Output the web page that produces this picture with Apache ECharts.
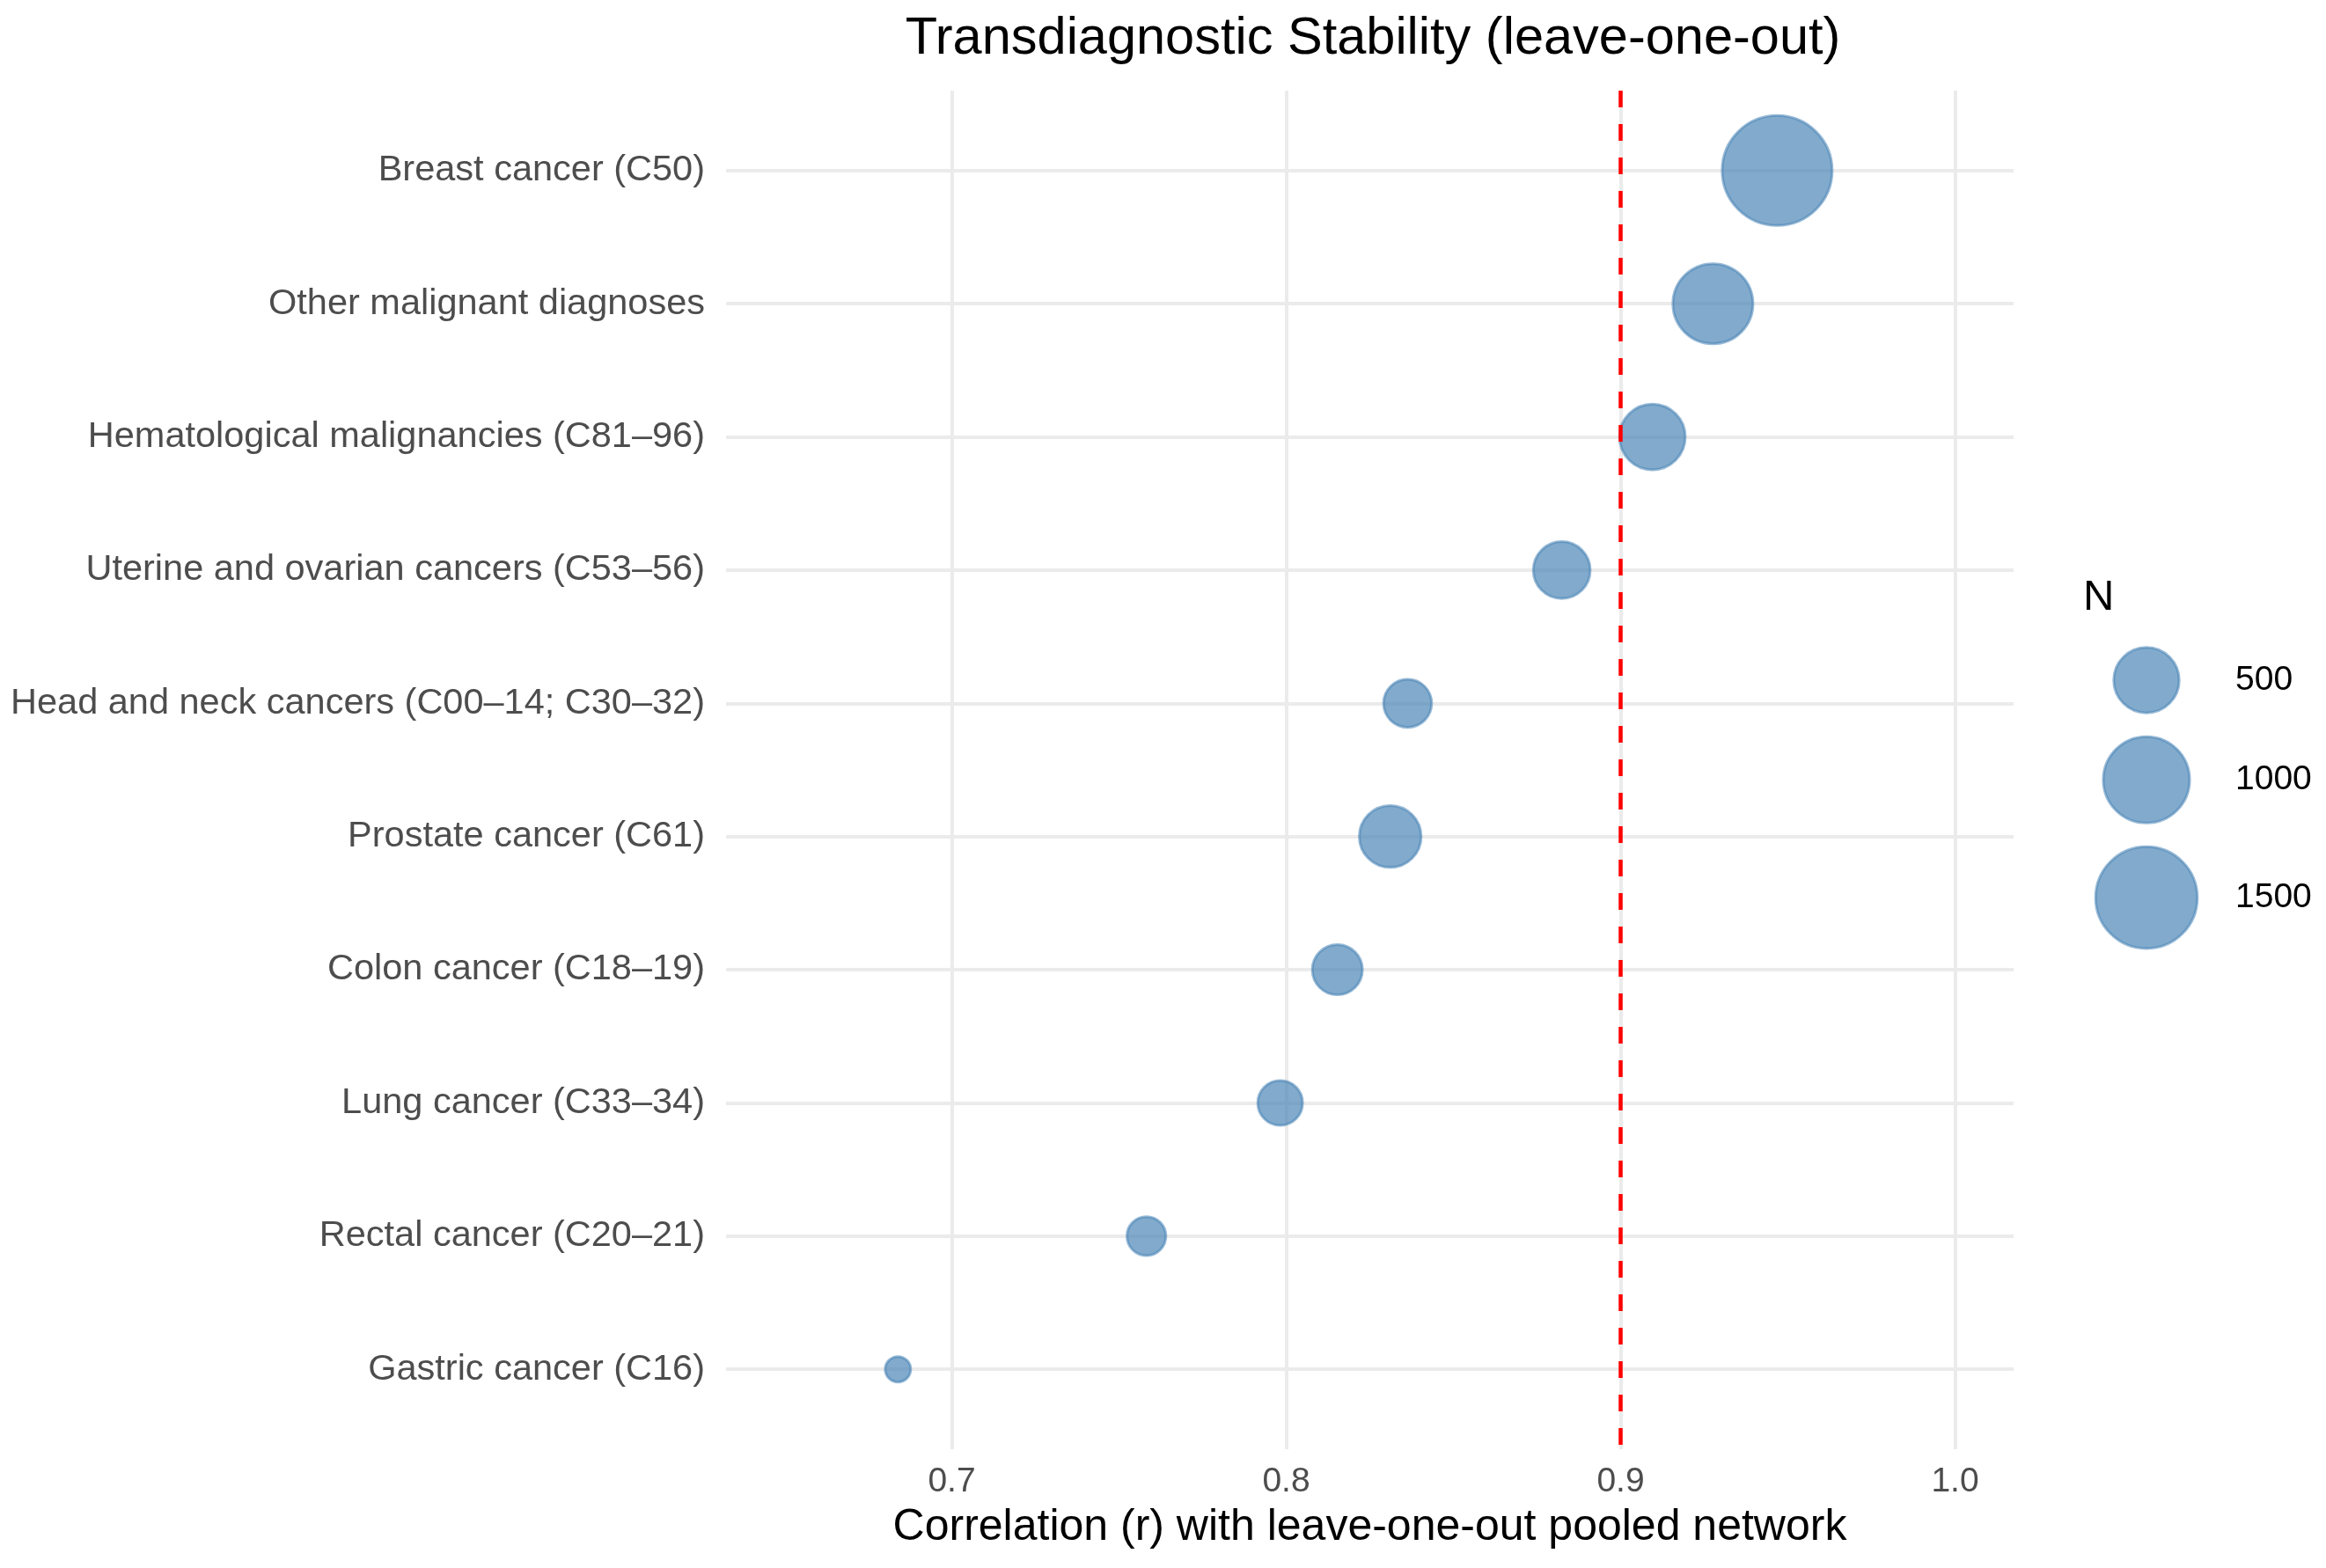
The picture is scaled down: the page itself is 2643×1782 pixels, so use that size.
<!DOCTYPE html>
<html>
<head>
<meta charset="utf-8">
<title>Transdiagnostic Stability (leave-one-out)</title>
<script src="https://cdn.jsdelivr.net/npm/echarts@6.0.0/dist/echarts.min.js"></script>
<style>
  html, body { margin: 0; padding: 0; background: #fff; }
  #main { width: 2643px; height: 1782px; }
</style>
</head>
<body>
<div id="main"></div>
<script>
  // diagnosis groups, listed top to bottom
  var categories = [
    'Breast cancer (C50)',
    'Other malignant diagnoses',
    'Hematological malignancies (C81\u201396)',
    'Uterine and ovarian cancers (C53\u201356)',
    'Head and neck cancers (C00\u201314; C30\u201332)',
    'Prostate cancer (C61)',
    'Colon cancer (C18\u201319)',
    'Lung cancer (C33\u201334)',
    'Rectal cancer (C20\u201321)',
    'Gastric cancer (C16)'
  ];
  // correlation r with leave-one-out pooled network
  var correlation = [0.9468, 0.9276, 0.9095, 0.8824, 0.8363, 0.8311, 0.8153, 0.7982, 0.7582, 0.6839];
  // sample size per group (bubble size)
  var sampleN = [1815, 828, 505, 355, 242, 435, 265, 210, 164, 121];

  var xTicks = [0.7, 0.8, 0.9, 1.0];
  var legendBreaks = [500, 1000, 1500];
  var threshold = 0.9;

  var FONT = 'Liberation Sans, Arial, Helvetica, sans-serif';
  var nMin = Math.min.apply(null, sampleN);
  var nMax = Math.max.apply(null, sampleN);
  var BORDER = 3;
  var KEY_PAD = 24;

  // area-style size scale, like ggplot scale_size
  function diameter(n) {
    var t = (n - nMin) / (nMax - nMin);
    if (t < 0) t = 0;
    return 32 + 96 * Math.sqrt(t);
  }
  function bubble(n) {
    return diameter(n) - BORDER;
  }

  var points = correlation.map(function (r, i) {
    return [r, i, sampleN[i]];
  });

  // legend keys stack like ggplot: each key as tall as its circle plus padding
  var keyCenters = [];
  var keyTotal = 0;
  legendBreaks.forEach(function (n) {
    var h = diameter(n) + KEY_PAD;
    keyCenters.push(keyTotal + h / 2);
    keyTotal += h;
  });
  var legendPoints = legendBreaks.map(function (n, i) {
    return [0, keyCenters[i], n];
  });

  var bubbleStyle = {
    color: 'rgba(70,130,180,0.68)',
    borderColor: 'rgba(70,130,180,0.55)',
    borderWidth: BORDER,
    opacity: 1
  };

  var chart = echarts.init(document.getElementById('main'), null, { renderer: 'canvas' });

  var option = {
    backgroundColor: '#ffffff',
    animation: false,
    textStyle: { fontFamily: FONT },
    title: [
      {
        text: 'Transdiagnostic Stability (leave-one-out)',
        left: 1560,
        top: 15,
        padding: 0,
        textAlign: 'center',
        textStyle: { fontFamily: FONT, fontSize: 59.5, fontWeight: 'normal', color: '#000000' }
      },
      {
        text: 'N',
        left: 2367,
        top: 655,
        padding: 0,
        textStyle: { fontFamily: FONT, fontSize: 49, fontWeight: 'normal', color: '#000000' }
      }
    ],
    grid: [
      { left: 825, right: 355, top: 103, bottom: 135, containLabel: false, outerBoundsMode: 'none' },
      { left: 2379, width: 120, top: 773 - keyCenters[0], height: keyTotal, containLabel: false, outerBoundsMode: 'none' }
    ],
    xAxis: [
      {
        type: 'value',
        gridIndex: 0,
        min: 0.6325,
        max: 1.0175,
        name: 'Correlation (r) with leave-one-out pooled network',
        nameLocation: 'middle',
        nameGap: 64,
        nameTextStyle: { fontFamily: FONT, fontSize: 50, color: '#000000' },
        axisLine: { show: false },
        axisTick: { show: false, customValues: xTicks },
        axisLabel: {
          customValues: xTicks,
          margin: 18,
          fontSize: 39,
          color: '#4D4D4D',
          fontFamily: FONT,
          formatter: function (v) { return v.toFixed(1); }
        },
        splitLine: { show: true, lineStyle: { color: '#EBEBEB', width: 4 } }
      },
      {
        type: 'value',
        gridIndex: 1,
        min: -1,
        max: 1,
        show: false,
        splitLine: { show: false }
      }
    ],
    yAxis: [
      {
        type: 'value',
        gridIndex: 0,
        min: -0.6,
        max: categories.length - 1 + 0.6,
        inverse: true,
        axisLine: { show: false },
        axisTick: { show: false, customValues: categories.map(function (c, i) { return i; }) },
        axisLabel: {
          customValues: categories.map(function (c, i) { return i; }),
          margin: 24,
          fontSize: 41.5,
          color: '#4D4D4D',
          fontFamily: FONT,
          formatter: function (v) { return categories[Math.round(v)]; }
        },
        splitLine: { show: true, lineStyle: { color: '#EBEBEB', width: 4 } }
      },
      {
        type: 'value',
        gridIndex: 1,
        position: 'right',
        inverse: true,
        min: 0,
        max: keyTotal,
        axisLine: { show: false },
        axisTick: { show: false, customValues: keyCenters },
        axisLabel: {
          customValues: keyCenters,
          margin: 41,
          fontSize: 39,
          color: '#000000',
          fontFamily: FONT,
          formatter: function (v) {
            var i = 0;
            keyCenters.forEach(function (c, k) {
              if (Math.abs(c - v) < Math.abs(keyCenters[i] - v)) i = k;
            });
            return String(legendBreaks[i]);
          }
        },
        splitLine: { show: false }
      }
    ],
    series: [
      {
        name: 'r',
        type: 'scatter',
        xAxisIndex: 0,
        yAxisIndex: 0,
        data: points,
        symbol: 'circle',
        symbolSize: function (d) { return bubble(d[2]); },
        itemStyle: bubbleStyle,
        emphasis: { disabled: true },
        z: 3
      },
      {
        name: 'threshold',
        type: 'scatter',
        xAxisIndex: 0,
        yAxisIndex: 0,
        data: [],
        z: 5,
        markLine: {
          silent: true,
          symbol: 'none',
          label: { show: false },
          lineStyle: { color: '#FF0000', width: 4.5, type: [19, 19], opacity: 1 },
          data: [{ xAxis: threshold }]
        }
      },
      {
        name: 'N legend',
        type: 'scatter',
        xAxisIndex: 1,
        yAxisIndex: 1,
        data: legendPoints,
        symbol: 'circle',
        symbolSize: function (d) { return bubble(d[2]); },
        itemStyle: bubbleStyle,
        emphasis: { disabled: true }
      }
    ]
  };

  chart.setOption(option);
</script>
</body>
</html>
